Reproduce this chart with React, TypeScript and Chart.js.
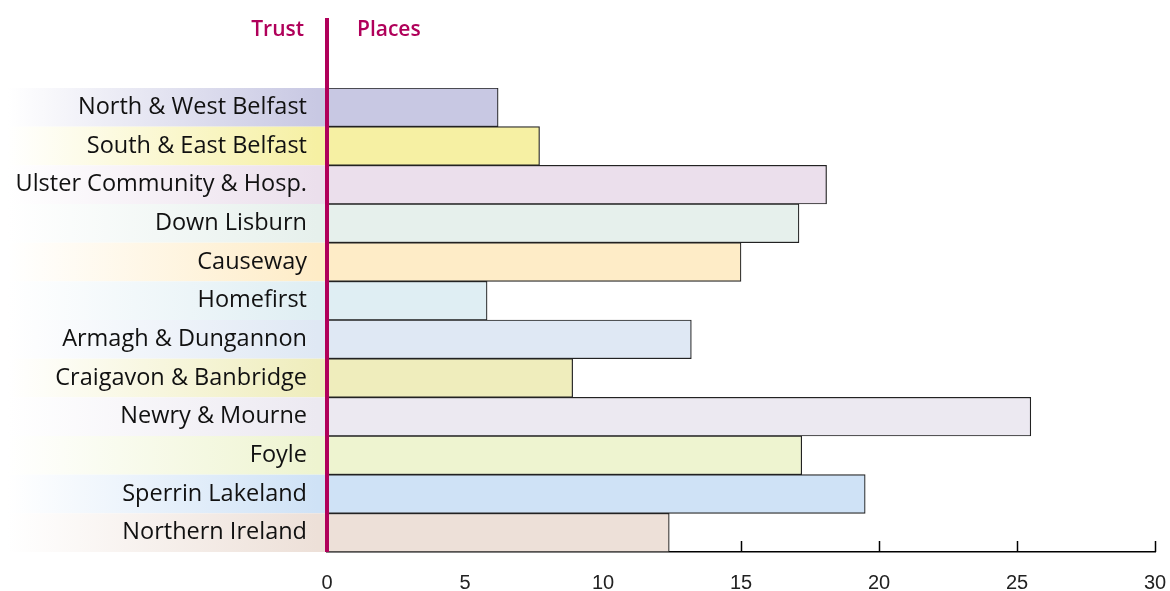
import React, { useEffect, useRef } from "react";
import { Chart, registerables } from "chart.js";

Chart.register(...registerables);

const categories = [
  "North & West Belfast",
  "South & East Belfast",
  "Ulster Community & Hosp.",
  "Down Lisburn",
  "Causeway",
  "Homefirst",
  "Armagh & Dungannon",
  "Craigavon & Banbridge",
  "Newry & Mourne",
  "Foyle",
  "Sperrin Lakeland",
  "Northern Ireland",
];

const places = [6.2, 7.7, 18.1, 17.1, 15.0, 5.8, 13.2, 8.9, 25.5, 17.2, 19.5, 12.4];

const barColors = [
  "#c8c8e3",
  "#f6f0a3",
  "#ebdfec",
  "#e6f0ec",
  "#feecc7",
  "#dfeef3",
  "#dfe8f4",
  "#efedbc",
  "#ece9f1",
  "#eef4d0",
  "#cfe2f6",
  "#ede0d8",
];

const xTicks = [0, 5, 10, 15, 20, 25, 30];
const headerLeft = "Trust";
const headerRight = "Places";
const MAGENTA = "#b0005a";

const decorPlugin = {
  id: "decor",
  beforeDraw(chart: any) {
    const { ctx, chartArea, scales } = chart;
    const y = scales.y;
    const band = y.getPixelForValue(1) - y.getPixelForValue(0);
    ctx.save();
    categories.forEach((_, i) => {
      const cy = y.getPixelForValue(i);
      const top = cy - band / 2;
      const g = ctx.createLinearGradient(8, 0, chartArea.left - 10, 0);
      g.addColorStop(0, "rgba(255,255,255,1)");
      g.addColorStop(1, barColors[i]);
      ctx.fillStyle = g;
      ctx.fillRect(0, top, chartArea.left, band);
    });
    ctx.restore();
  },
  beforeDatasetsDraw(chart: any) {
    const { ctx, chartArea, scales } = chart;
    const x = scales.x;
    ctx.save();
    ctx.strokeStyle = "#000";
    ctx.lineWidth = 1.5;
    xTicks.forEach((v) => {
      const px = Math.round(x.getPixelForValue(v)) + 0.5;
      ctx.beginPath();
      ctx.moveTo(px, chartArea.bottom);
      ctx.lineTo(px, chartArea.bottom - 11);
      ctx.stroke();
    });
    ctx.restore();
  },
  afterDatasetsDraw(chart: any) {
    const { ctx, chartArea } = chart;
    ctx.save();
    ctx.fillStyle = MAGENTA;
    ctx.fillRect(chartArea.left - 2, 18, 4, chartArea.bottom - 18);
    ctx.font = "600 21px 'Open Sans'";
    ctx.textBaseline = "middle";
    ctx.textAlign = "right";
    ctx.fillText(headerLeft, chartArea.left - 23, 30);
    ctx.textAlign = "left";
    ctx.fillText(headerRight, chartArea.left + 30, 30);
    ctx.restore();
  },
};

export default function App() {
  const ref = useRef<HTMLCanvasElement | null>(null);
  useEffect(() => {
    document.body.style.margin = "0";
    const chart = new Chart(ref.current as HTMLCanvasElement, {
      type: "bar",
      data: {
        labels: categories,
        datasets: [
          {
            data: places,
            backgroundColor: barColors,
            borderColor: "#222",
            borderWidth: 1.2,
            borderSkipped: false,
            barPercentage: 1,
            categoryPercentage: 1,
          },
        ],
      },
      options: {
        indexAxis: "y",
        animation: false,
        responsive: true,
        maintainAspectRatio: false,
        layout: { padding: { top: 88, right: 15, bottom: 0, left: 0 } },
        plugins: { legend: { display: false }, tooltip: { enabled: false } },
        scales: {
          x: {
            type: "linear",
            min: 0,
            max: 30,
            afterBuildTicks: (scale: any) => {
              scale.ticks = xTicks.map((v) => ({ value: v }));
            },
            ticks: {
              font: { family: "Liberation Sans", size: 20 },
              color: "#222",
              padding: 19,
            },
            grid: { display: false, drawTicks: false },
            border: { display: true, color: "#000", width: 1.5 },
            afterFit: (scale: any) => {
              scale.height = 39;
              scale.paddingRight = 0;
              scale.paddingLeft = 0;
            },
          },
          y: {
            type: "category",
            ticks: {
              font: { family: "Open Sans", size: 23.5 },
              color: "#111",
              padding: 20,
            },
            grid: { display: false, drawTicks: false },
            border: { display: false },
            afterFit: (scale: any) => {
              scale.width = 327;
            },
          },
        },
      },
      plugins: [decorPlugin],
    });
    return () => chart.destroy();
  }, []);
  return (
    <div style={{ position: "fixed", left: 0, top: 0, width: 1170, height: 591 }}>
      <canvas ref={ref} />
    </div>
  );
}
